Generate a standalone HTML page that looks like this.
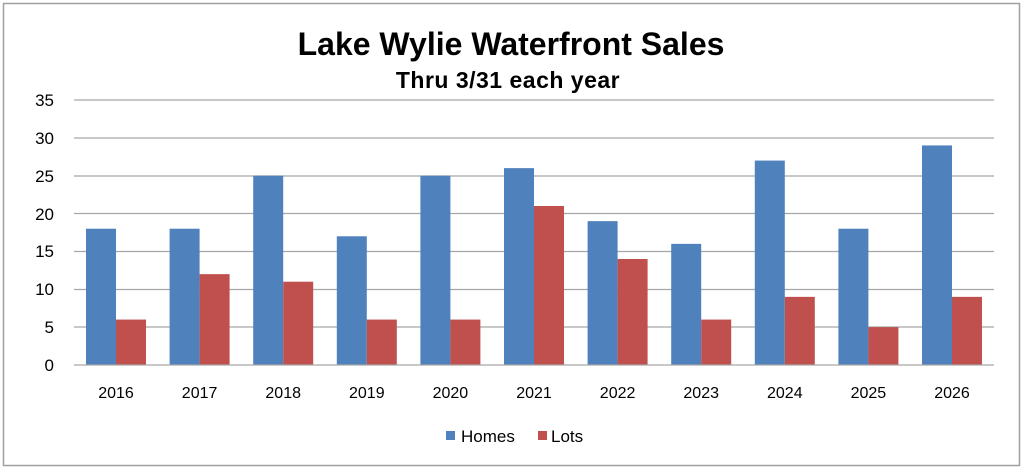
<!DOCTYPE html>
<html><head><meta charset="utf-8"><style>
html,body{margin:0;padding:0;background:#fff;}
svg{display:block;font-family:"Liberation Sans",sans-serif;}
</style></head><body>
<svg width="1024" height="469" viewBox="0 0 1024 469">
<rect x="3.5" y="3.5" width="1016" height="462" fill="#fff" stroke="#a0a0a0" stroke-width="1.5"/>
<text x="511" y="55" text-anchor="middle" font-size="32" font-weight="bold" fill="#000">Lake Wylie Waterfront Sales</text>
<text x="508" y="88" text-anchor="middle" font-size="23" font-weight="bold" fill="#000" letter-spacing="0.5">Thru 3/31 each year</text>
<g stroke="#a6a6a6" stroke-width="1.3">
<line x1="74" x2="994" y1="100" y2="100"/><line x1="74" x2="994" y1="138" y2="138"/>
<line x1="74" x2="994" y1="176" y2="176"/><line x1="74" x2="994" y1="213.5" y2="213.5"/>
<line x1="74" x2="994" y1="251.5" y2="251.5"/><line x1="74" x2="994" y1="289.5" y2="289.5"/>
<line x1="74" x2="994" y1="327" y2="327"/>
</g>
<g font-size="17" fill="#000" text-anchor="end">
<text x="54" y="106">35</text><text x="54" y="144">30</text><text x="54" y="182">25</text>
<text x="54" y="220">20</text><text x="54" y="257">15</text><text x="54" y="295">10</text>
<text x="54" y="333">5</text><text x="54" y="371">0</text>
</g>
<g id="bars"></g>
<line x1="74" x2="994" y1="365" y2="365" stroke="#a6a6a6" stroke-width="1.3"/>
<g font-size="16" fill="#000" text-anchor="middle" id="labels"></g>
<rect x="446" y="431" width="9" height="9" fill="#4f81bd"/>
<text x="461" y="442" font-size="17">Homes</text>
<rect x="538" y="431" width="9" height="9" fill="#c0504d"/>
<text x="551" y="442" font-size="17">Lots</text>
<script>
var H=[18,18,25,17,25,26,19,16,27,18,29],L=[6,12,11,6,6,21,14,6,9,5,9];
var s=265/35,b=document.getElementById('bars'),l=document.getElementById('labels'),ns='http://www.w3.org/2000/svg';
for(var i=0;i<11;i++){var x=86+83.6*i;
[[H[i],x,'#4f81bd'],[L[i],x+30,'#c0504d']].forEach(function(d){var r=document.createElementNS(ns,'rect');
r.setAttribute('x',d[1]);r.setAttribute('width',30);r.setAttribute('y',365-d[0]*s);r.setAttribute('height',d[0]*s);r.setAttribute('fill',d[2]);b.appendChild(r);});
var t=document.createElementNS(ns,'text');t.setAttribute('x',x+30);t.setAttribute('y',398);t.textContent=2016+i;l.appendChild(t);}
</script>
</svg>
</body></html>
